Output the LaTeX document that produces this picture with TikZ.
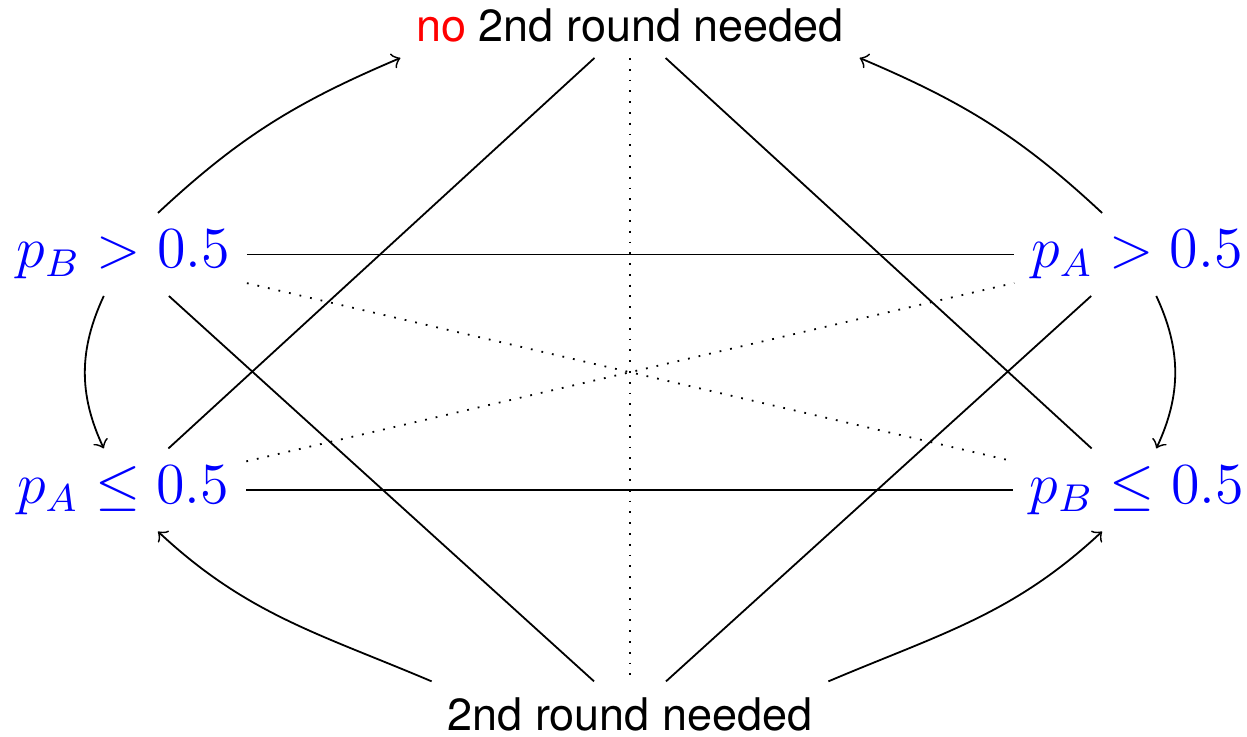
\documentclass[tikz,border=0pt]{standalone}
\usepackage{fontspec}
\setsansfont{TeX Gyre Heros}

\begin{document}
\begin{tikzpicture}[x=1cm,y=1cm,font=\sffamily,>=to,
    cond/.style={text=blue,font=\large,scale=1.077,transform shape}]
    \useasboundingbox (-4.922,-2.852) rectangle (4.820,2.898);
    \node (no) at (0,2.70) {\textcolor{red}{no} 2nd round needed};
    \node (yes) at (0,-2.68) {2nd round needed};
    \node[cond] (bhi) at (-3.96,.91) {\(p_B>0.5\)};
    \node[cond] (ahi) at (3.96,.91) {\(p_A>0.5\)};
    \node[cond] (alo) at (-3.96,-.93) {\(p_A\le0.5\)};
    \node[cond] (blo) at (3.96,-.93) {\(p_B\le0.5\)};
    \draw (bhi)--(ahi);
    \draw (alo)--(blo);
    \draw (no)--(alo);
    \draw (no)--(blo);
    \draw (yes)--(bhi);
    \draw (yes)--(ahi);
    \draw[dotted] (no)--(yes);
    \draw[dotted] (bhi)--(blo);
    \draw[dotted] (alo)--(ahi);
    \draw[->] (bhi.50) to[out=43,in=203] (no.south west);
    \draw[->] (ahi.130) to[out=137,in=-23] (no.south east);
    \draw[->] (yes.north west) to[out=157,in=-43] (alo.-50);
    \draw[->] (yes.north east) to[out=23,in=223] (blo.-130);
    \draw[->] (bhi) to[bend right=25] (alo);
    \draw[->] (ahi) to[bend left=25] (blo);
  \end{tikzpicture}
\end{document}
